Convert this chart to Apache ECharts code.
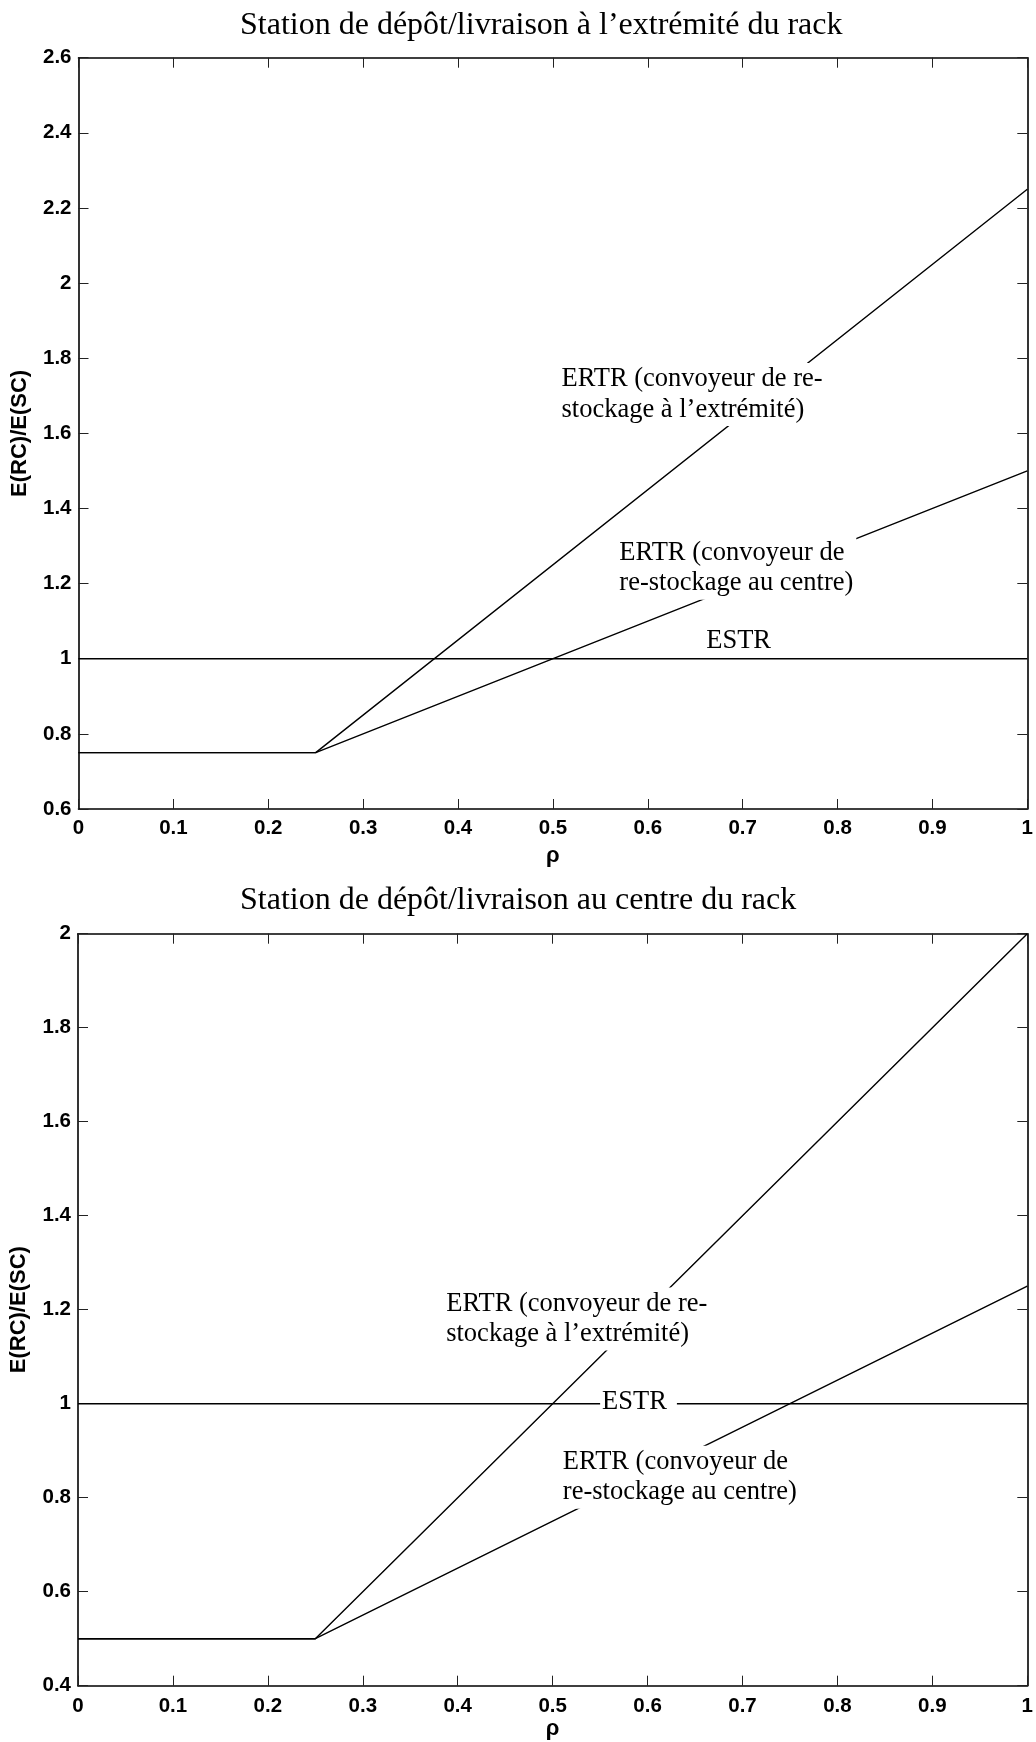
<!DOCTYPE html>
<html>
<head>
<meta charset="utf-8">
<script src="https://cdn.jsdelivr.net/npm/echarts@6/dist/echarts.min.js"></script>
<style>
  html, body { margin: 0; padding: 0; background: #fff; }
  #chart { width: 1036px; height: 1742px; }
</style>
</head>
<body>
<div id="chart"></div>
<script>
// ρ breakpoints shared by every curve
const rho = [0, 0.25, 1];

// Upper panel: P/D station at the end of the rack
const topEstr = [1, 1, 1];
const topErtrEnd = [0.75, 0.75, 2.25];
const topErtrCentre = [0.75, 0.75, 1.5];

// Lower panel: P/D station at the centre of the rack
const botEstr = [1, 1, 1];
const botErtrEnd = [0.5, 0.5, 2.0];
const botErtrCentre = [0.5, 0.5, 1.25];

// Axis ticks
const xTicks = [0, 0.1, 0.2, 0.3, 0.4, 0.5, 0.6, 0.7, 0.8, 0.9, 1];
const topYTicks = [0.6, 0.8, 1, 1.2, 1.4, 1.6, 1.8, 2, 2.2, 2.4, 2.6];
const botYTicks = [0.4, 0.6, 0.8, 1, 1.2, 1.4, 1.6, 1.8, 2];

const panelTitles = [
  'Station de dépôt/livraison à l’extrémité du rack',
  'Station de dépôt/livraison au centre du rack'
];
const xName = 'ρ';
const yName = 'E(RC)/E(SC)';

// Curve annotations: text and the top-left corner of its box, in data units
const topNoteText = [
  'ERTR (convoyeur de re-\nstockage à l’extrémité)',
  'ERTR (convoyeur de\nre-stockage au centre)',
  'ESTR'
];
const topNoteAt = [[0.508, 1.787], [0.569, 1.325], [0.6595, 1.088]];

const botNoteText = [
  'ERTR (convoyeur de re-\nstockage à l’extrémité)',
  'ESTR',
  'ERTR (convoyeur de\nre-stockage au centre)'
];
const botNoteAt = [[0.3868, 1.2474], [0.55, 1.038], [0.5097, 0.9106]];

const AXIS_FONT = 'Liberation Sans, Arial, sans-serif';
const SERIF_FONT = 'Liberation Serif, Times New Roman, serif';

const zip = (xs, ys) => xs.map((x, i) => [x, ys[i]]);

function frameAxes(kind, gridIndex, ticks, names) {
  const lo = ticks[0], hi = ticks[ticks.length - 1];
  const step = +(ticks[1] - ticks[0]).toFixed(6);
  const base = {
    type: 'value',
    gridIndex: gridIndex,
    min: lo, max: hi, interval: step,
    axisLine: { show: true, onZero: false, lineStyle: { color: '#000', width: 1.6 } },
    axisTick: { show: true, inside: true, length: 10, lineStyle: { color: '#222', width: 1 } },
    splitLine: { show: false }
  };
  const main = Object.assign({}, base, {
    position: kind === 'x' ? 'bottom' : 'left',
    axisLabel: {
      show: true,
      color: '#000',
      fontFamily: AXIS_FONT,
      fontWeight: 'bold',
      fontSize: 20.5,
      margin: kind === 'x' ? 9 : 7,
      formatter: v => String(+v.toFixed(2))
    },
    name: kind === 'x' ? xName : yName,
    nameLocation: 'middle',
    nameGap: names.gap,
    nameTextStyle: { color: '#000', fontFamily: AXIS_FONT, fontWeight: 'bold', fontSize: 22 }
  });
  if (kind === 'y') main.nameRotate = 90;
  const mirror = Object.assign({}, base, {
    position: kind === 'x' ? 'top' : 'right',
    axisLabel: { show: false }
  });
  return [main, mirror];
}

function curve(xIdx, yIdx, values) {
  return {
    type: 'line',
    xAxisIndex: xIdx, yAxisIndex: yIdx,
    data: zip(rho, values),
    showSymbol: false,
    symbol: 'none',
    lineStyle: { color: '#000', width: 1.4 },
    z: 2,
    silent: true
  };
}

const topX = frameAxes('x', 0, xTicks, { gap: 36 });
const topY = frameAxes('y', 0, topYTicks, { gap: 48 });
const botX = frameAxes('x', 1, xTicks, { gap: 29 });
const botY = frameAxes('y', 1, botYTicks, { gap: 48 });
botX[0].axisLabel.margin = 10;

const option = {
  animation: false,
  backgroundColor: '#fff',
  title: [
    { text: panelTitles[0], left: 240, top: 10, padding: 0,
      textStyle: { fontFamily: SERIF_FONT, fontSize: 32, fontWeight: 'normal', color: '#000' } },
    { text: panelTitles[1], left: 240, top: 885, padding: 0,
      textStyle: { fontFamily: SERIF_FONT, fontSize: 32, fontWeight: 'normal', color: '#000' } }
  ],
  grid: [
    { left: 78.5, top: 57.7, width: 950, height: 751.3 },
    { left: 77.5, top: 933.7, width: 950, height: 752 }
  ],
  // axis order: 0 upper-bottom, 1 upper-top, 2 lower-bottom, 3 lower-top
  xAxis: [topX[0], topX[1], botX[0], botX[1]],
  yAxis: [topY[0], topY[1], botY[0], botY[1]],
  series: [
    curve(0, 0, topEstr),
    curve(0, 0, topErtrEnd),
    curve(0, 0, topErtrCentre),
    curve(2, 2, botEstr),
    curve(2, 2, botErtrEnd),
    curve(2, 2, botErtrCentre)
  ]
};

const chart = echarts.init(document.getElementById('chart'), null, { renderer: 'canvas' });
chart.setOption(option);

// Annotation boxes (white background hides the curve behind the text),
// placed through the axes' own data-to-pixel conversion.
function noteGraphics(xIdx, yIdx, texts, anchors, paddings) {
  return anchors.map((p, i) => {
    const px = chart.convertToPixel({ xAxisIndex: xIdx, yAxisIndex: yIdx }, p);
    return {
      type: 'text',
      x: px[0],
      y: px[1],
      z: 100,
      silent: true,
      style: {
        text: texts[i],
        fill: '#000',
        fontFamily: SERIF_FONT,
        fontSize: 26.5,
        lineHeight: 30.5,
        align: 'left',
        verticalAlign: 'top',
        backgroundColor: '#fff',
        padding: paddings[i]
      }
    };
  });
}

chart.setOption({
  graphic: [].concat(
    noteGraphics(0, 0, topNoteText, topNoteAt, [[1, 3, 1, 1], [1, 3, 1, 1], [0, 2, 0, 2]]),
    noteGraphics(2, 2, botNoteText, botNoteAt, [[1, 3, 1, 1], [1, 10, 1, 2], [1, 3, 1, 1]])
  )
});
</script>
</body>
</html>
